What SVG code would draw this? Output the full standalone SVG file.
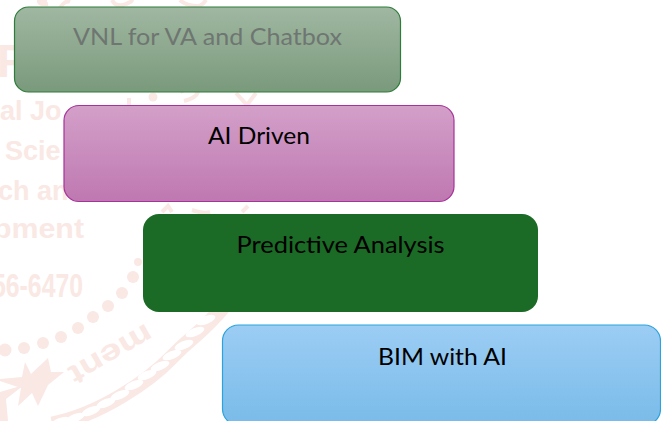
<svg xmlns="http://www.w3.org/2000/svg" width="661" height="421" viewBox="0 0 661 421">
<style>
.lbl{font-family:"Lato","Liberation Sans",sans-serif;font-size:22.5px;fill:#000}
.wm{font-family:"Liberation Sans",sans-serif;font-weight:bold;fill:#fae8e4}
.d{fill:#fae8e4}
.s{fill:none;stroke:#fae8e4;stroke-width:4}
.tw{fill:#fff}
</style>
<defs>
<linearGradient id="g1" x1="0" y1="0" x2="0" y2="1"><stop offset="0" stop-color="#a0b7a1"/><stop offset="1" stop-color="#7a9a7c"/></linearGradient>
<linearGradient id="g2" x1="0" y1="0" x2="0" y2="1"><stop offset="0" stop-color="#d3a0c9"/><stop offset="1" stop-color="#bf78b1"/></linearGradient>
<linearGradient id="g4" x1="0" y1="0" x2="0" y2="1"><stop offset="0" stop-color="#9ccdf4"/><stop offset="1" stop-color="#79bbe9"/></linearGradient>
<ellipse id="tw" class="tw" rx="10" ry="4" transform="rotate(-22)"/>
</defs>
<g id="watermark">
<text class="wm" x="-3" y="77" font-size="47" font-weight="normal">F</text>
<text class="wm" x="0" y="120" font-size="27">al Jo</text>
<text class="wm" x="5" y="160" font-size="27">Scie</text>
<text class="wm" x="-2" y="200" font-size="27">ch an</text>
<text class="wm" x="-7" y="238" font-size="28" textLength="91" lengthAdjust="spacingAndGlyphs">pment</text>
<text class="wm" x="-8" y="297" font-size="33" textLength="91" lengthAdjust="spacingAndGlyphs">56-6470</text>
<g class="d">
<circle cx="153" cy="97" r="4.500"/><circle cx="42" cy="1" r="5"/>
<circle cx="138" cy="262" r="4"/><circle cx="133" cy="277" r="6"/><circle cx="122" cy="293" r="6"/><circle cx="108" cy="306" r="6"/><circle cx="93" cy="317" r="6"/><circle cx="78" cy="328" r="6"/><circle cx="61" cy="337" r="6"/><circle cx="43" cy="343" r="6"/><circle cx="24" cy="348" r="6"/><circle cx="5" cy="350" r="6.500"/>
<polygon points="25,362 31,374 48,358 51,372 64,372 48,385 38,406 32,393 18,406 21,388 0,381 0,379 22,377"/>
<polygon points="0,392 24,385 6,399 8,421 0,421"/>
</g>
<text class="wm" transform="translate(146,323) rotate(150)" font-size="29" textLength="92" lengthAdjust="spacingAndGlyphs">ment</text>
<path d="M52 424C100 415 150 380 172 357S200 335 225 305" fill="none" stroke="#fae8e4" stroke-width="15"/>
<g id="rope">
<use href="#tw" x="60" y="422"/><use href="#tw" x="75" y="418"/><use href="#tw" x="91" y="411"/><use href="#tw" x="106" y="403"/><use href="#tw" x="120" y="395"/><use href="#tw" x="134" y="385"/><use href="#tw" x="147" y="375"/><use href="#tw" x="160" y="366"/><use href="#tw" x="172" y="355"/><use href="#tw" x="184" y="345"/><use href="#tw" x="195" y="332"/><use href="#tw" x="206" y="320"/>
</g>
<path class="s" d="M129 98V106M180 92q10-6 18 0q-2 6-14 9M236 93l11 12l9-12"/>
<path class="s" d="M38 0q5 5 10 4M60 8q5-8 10-6M112 0q4 8 14 4q6-2 6-4M180 0q6 6 18 6q4 0 8-6"/>
<path class="s" d="M162 212l6-6l4 6M192 210q12 4 18 2M242 212l6-6"/>
</g>
<g id="connectors"></g>
<g id="n1"><rect x="14.500" y="7" width="386" height="85" rx="14" fill="url(#g1)" stroke="#2d7d3a" stroke-width="1.200"/><text class="lbl" x="73" y="45" style="fill:#6f7672" textLength="269" lengthAdjust="spacingAndGlyphs">VNL for VA and Chatbox</text></g>
<g id="n2"><rect x="64" y="105.500" width="390" height="96" rx="15" fill="url(#g2)" stroke="#a6329a" stroke-width="1.200"/><text class="lbl" x="208" y="144" textLength="102" lengthAdjust="spacingAndGlyphs">AI Driven</text></g>
<g id="n3"><rect x="143" y="214" width="395" height="98" rx="16" fill="#1b6b26"/><text class="lbl" x="236.500" y="253" textLength="208" lengthAdjust="spacingAndGlyphs">Predictive Analysis</text></g>
<g id="n4"><rect x="222.500" y="325" width="438" height="100" rx="16" fill="url(#g4)" stroke="#2ba3dc" stroke-width="1.200"/><text class="lbl" x="378" y="365" textLength="129" lengthAdjust="spacingAndGlyphs">BIM with AI</text></g>
</svg>
